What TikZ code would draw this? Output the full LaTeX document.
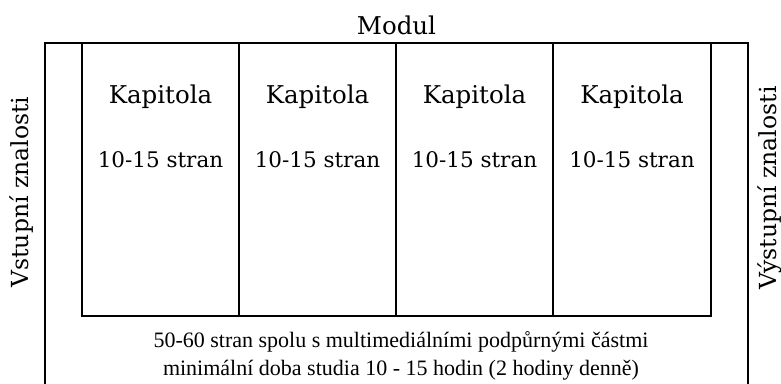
\documentclass[tikz,border=0pt]{standalone}
\usepackage{fontspec}
\setmainfont{DejaVu Serif}
\newfontfamily\popisfont{Liberation Serif}
\usetikzlibrary{positioning}

\begin{document}
\begin{tikzpicture}[x=1pt,y=-1pt,line width=2pt,
    kapitola/.style={draw,outer sep=0pt,inner sep=0pt,minimum width=157pt,minimum height=273pt,anchor=north west},
    popisek/.style={font=\fontsize{24.5}{28}\selectfont}]
    \useasboundingbox (0,0) rectangle (781,383);

    % Nodes
    \node[draw,outer sep=0pt,inner sep=0pt,minimum width=703pt,minimum height=380pt,anchor=north west] (modul) at (45,43) {};
    \node[kapitola] (kap1) at (82,43) {};
    \node[kapitola,right=0pt of kap1] (kap2) {};
    \node[kapitola,right=0pt of kap2] (kap3) {};
    \node[kapitola,right=0pt of kap3,minimum width=158pt] (kap4) {};

    % Labels
    \node[popisek] (nazev) at ([yshift=18pt]modul.north) {Modul};
    \foreach \i in {1,...,4} {
        \node[popisek] (kapnazev\i) at ([yshift=-54pt]kap\i.north) {Kapitola};
        \node[font=\fontsize{21.5}{26}\selectfont] (kaprozsah\i) at ([yshift=-117pt]kap\i.north) {10-15 stran};
    }
    \node[rotate=90,font=\fontsize{23.5}{28}\selectfont] (vstup) at (22,192) {Vstupní znalosti};
    \node[rotate=90,font=\fontsize{23.5}{28}\selectfont] (vystup) at (770,188) {Výstupní znalosti};
    \node[align=center,font=\popisfont\fontsize{22}{28}\selectfont] (popis) at (401,356)
        {50-60 stran spolu s multimediálními podpůrnými částmi\\minimální doba studia 10 - 15 hodin (2 hodiny denně)};
\end{tikzpicture}
\end{document}
